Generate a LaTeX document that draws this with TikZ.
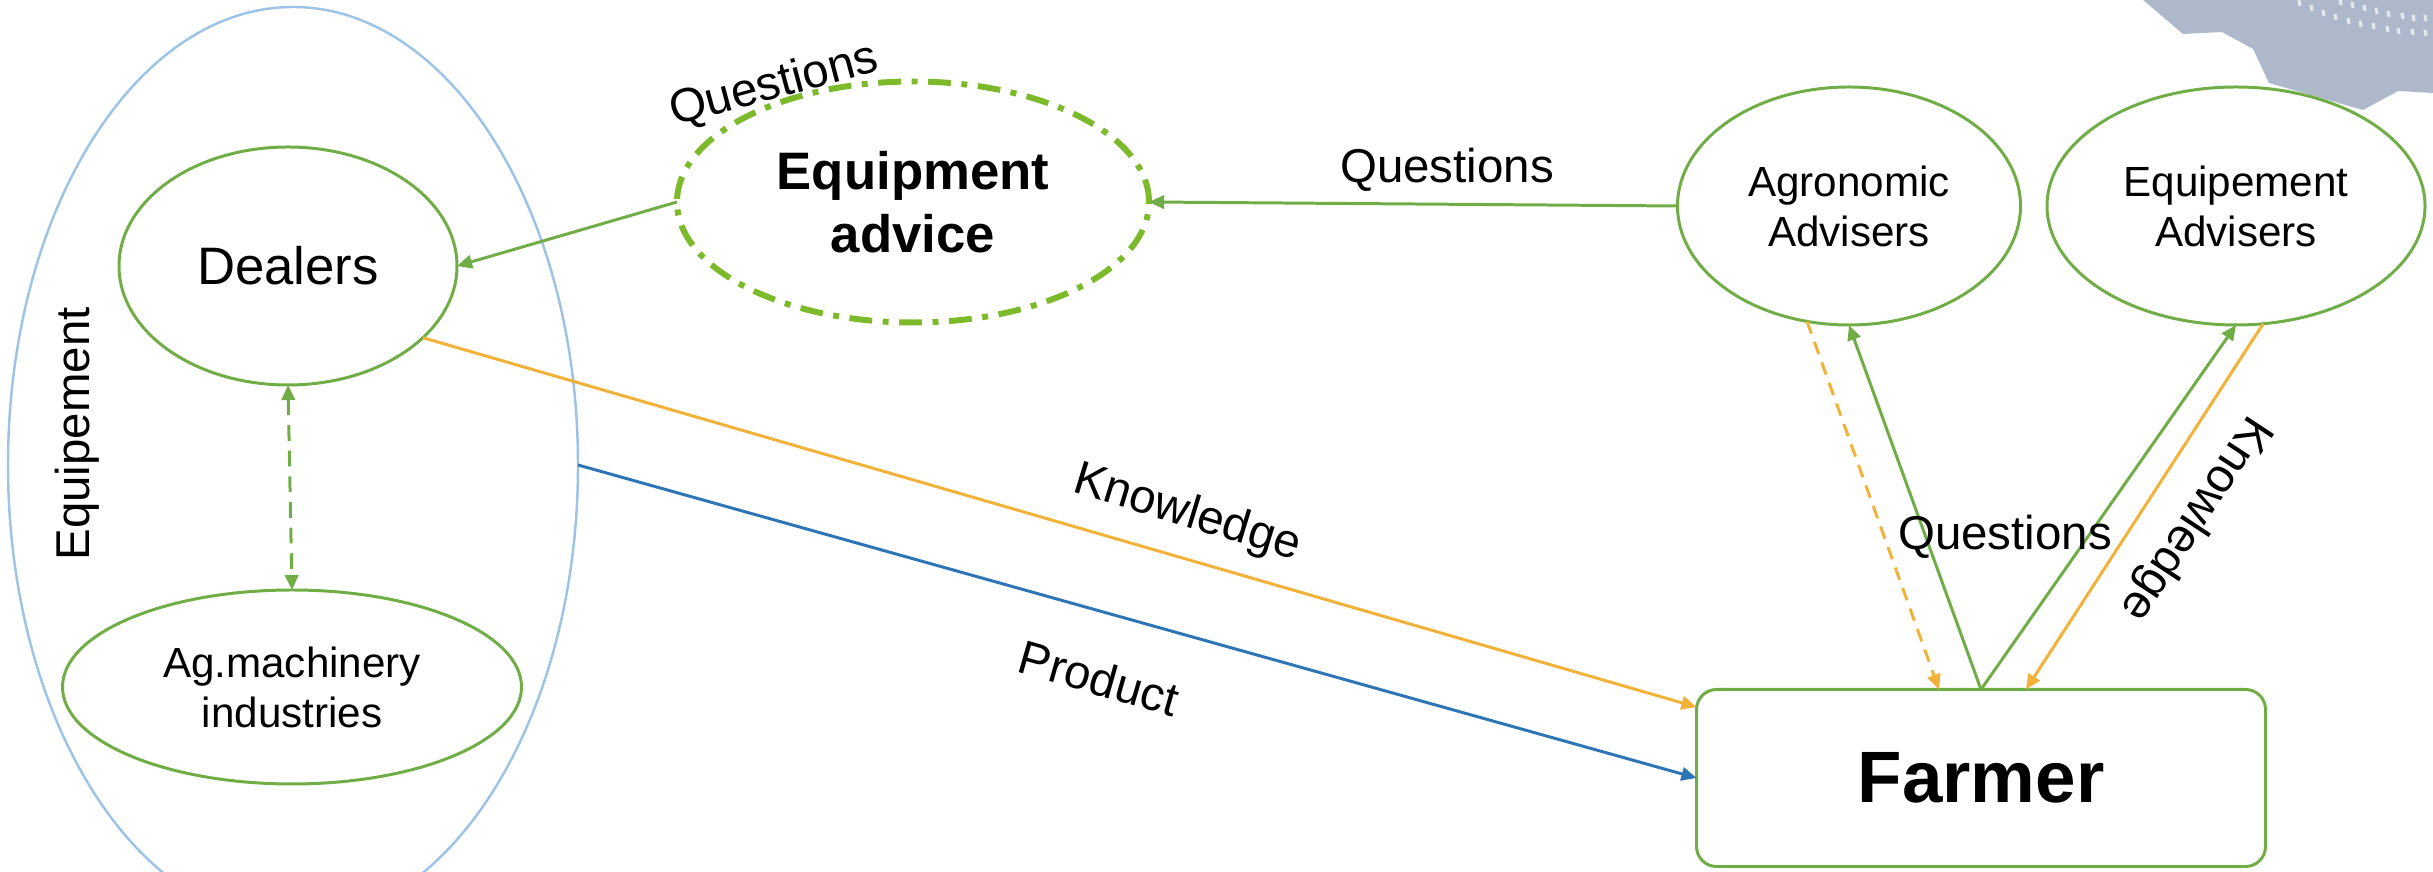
\documentclass[tikz,border=0pt]{standalone}
\usepackage{fontspec}
\setmainfont{Liberation Sans}
\usetikzlibrary{shapes.geometric,arrows.meta}
\definecolor{leaf}{RGB}{112,173,71}
\definecolor{lime}{RGB}{124,186,44}
\definecolor{amber}{RGB}{242,178,58}
\definecolor{sea}{RGB}{46,117,182}
\definecolor{sky}{RGB}{157,195,230}
\definecolor{slate}{RGB}{173,185,202}
\begin{document}
\begin{tikzpicture}[
        actor/.style = {shape=ellipse, draw=leaf, line width=0.85pt,
            align=center, inner sep=0pt, outer sep=0pt},
        small/.style = {font=\fontsize{12}{14.2}\selectfont},
        big/.style = {font=\fontsize{15}{17.8}\selectfont},
        tag/.style = {font=\fontsize{13.5}{16}\selectfont, inner sep=0pt},
        link/.style = {line width=0.85pt, -{Triangle[length=4.3pt,width=3.8pt]}},
        ask/.style = {link, leaf},
        know/.style = {link, amber}]
    \useasboundingbox (0,0) rectangle (24.33,8.72);
    % grey corner
    \fill[slate] (21.43,8.72) -- (21.83,8.38) -- (22.22,8.40) -- (22.53,8.23)
        -- (22.69,7.89) -- (23.63,7.62) -- (23.98,7.81) -- (24.33,7.79)
        -- (24.33,8.72) -- cycle;
    \foreach \x/\y in {22.99/8.69, 23.11/8.64, 23.23/8.59, 23.35/8.55, 23.48/8.51,
            23.60/8.48, 23.73/8.46, 23.87/8.43, 23.98/8.41, 24.12/8.40, 24.25/8.39,
            23.40/8.70, 23.52/8.67, 23.64/8.64, 23.76/8.61, 23.88/8.58,
            24.02/8.56, 24.13/8.54, 24.25/8.54}
        \draw[white!65!slate, line width=0.9pt] (\x,\y+0.03) -- (\x+0.01,\y-0.03);
    % nodes
    \node[shape=ellipse, draw=sky, line width=0.7pt, outer sep=0pt,
        minimum width=5.70cm, minimum height=9.16cm] (equip) at (2.93,4.07) {};
    \node[tag, rotate=90] (equiptag) at (0.77,4.38) {Equipement};
    \node[actor, big, minimum width=3.38cm, minimum height=2.38cm]
        (dealers) at (2.88,6.06) {Dealers};
    \node[actor, small, minimum width=4.59cm, minimum height=1.94cm]
        (agmach) at (2.92,1.85) {Ag.machinery\\industries};
    \node[shape=ellipse, draw=lime, line width=1.7pt, outer sep=0pt,
        dash pattern=on 6.5pt off 3pt on 1.7pt off 3pt,
        align=center, inner sep=0pt, big, font=\fontsize{15}{17.8}\selectfont\bfseries,
        minimum width=4.72cm, minimum height=2.41cm]
        (advice) at (9.13,6.70) {Equipment\\advice};
    \node[actor, small, minimum width=3.43cm, minimum height=2.38cm]
        (agro) at (18.49,6.66) {Agronomic\\Advisers};
    \node[actor, small, minimum width=3.78cm, minimum height=2.38cm]
        (eqadv) at (22.36,6.66) {Equipement\\Advisers};
    \node[shape=rectangle, rounded corners=0.2cm, draw=leaf, line width=0.85pt,
        outer sep=0pt, minimum width=5.69cm, minimum height=1.77cm,
        font=\fontsize{20.7}{24}\selectfont\bfseries]
        (farmer) at (19.81,0.94) {Farmer};
    % connectors
    \draw[ask] (advice.west) -- (dealers.east);
    \draw[link, leaf, {Triangle[length=4.3pt,width=3.8pt]}-{Triangle[length=4.3pt,width=3.8pt]},
        dash pattern=on 4.5pt off 2.8pt] (dealers.south) -- (agmach.north);
    \draw[know] (dealers.-28) -- (farmer.166);
    \draw[link, sea] (equip.east) -- (farmer.west);
    \draw[ask] (agro.west) -- (advice.east);
    \draw[know, dash pattern=on 3.7pt off 2.5pt] (agro.250) -- ([xshift=-0.42cm]farmer.north);
    \draw[ask] (farmer.north) -- (agro.south);
    \draw[ask] (farmer.north) -- (eqadv.south);
    \draw[know] (eqadv.-77) -- ([xshift=0.45cm]farmer.north);
    % labels
    \node[tag, rotate=15] (qadvice) at (7.74,7.86) {Questions};
    \node[tag] (qagro) at (14.47,7.02) {Questions};
    \node[tag, rotate=-17] (kdealers) at (11.87,3.58) {Knowledge};
    \node[tag, rotate=-16] (product) at (10.99,1.94) {Product};
    \node[tag] (qfarmer) at (20.05,3.35) {Questions};
    \node[tag, rotate=236.6] (keqadv) at (21.95,3.54) {Knowledge};
\end{tikzpicture}
\end{document}
